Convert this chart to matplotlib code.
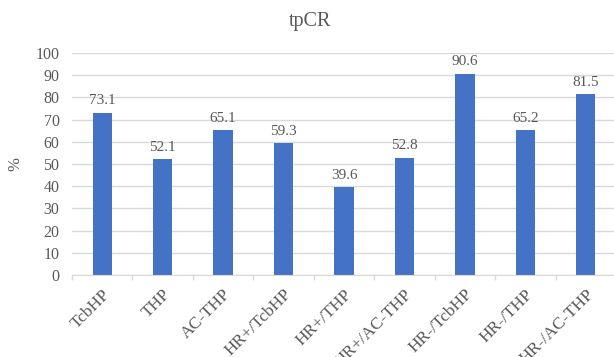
import numpy as np
import matplotlib
matplotlib.use('Agg')
import matplotlib.pyplot as plt

# regimens and tpCR rates (%)
groups = ['TcbHP', 'THP', 'AC-THP', 'HR+/TcbHP', 'HR+/THP', 'HR+/AC-THP',
          'HR-/TcbHP', 'HR-/THP', 'HR-/AC-THP']
tpcr = [73.1, 52.1, 65.1, 59.3, 39.6, 52.8, 90.6, 65.2, 81.5]

plt.rcParams['font.family'] = ['Liberation Serif', 'DejaVu Serif']
text_color = '#595959'
grid_color = '#d9d9d9'
bar_color = '#4472c4'

fig = plt.figure(figsize=(6.14, 3.57), dpi=100)
ax = fig.add_axes([0.1173, 0.2297, 0.886, 0.6218])

x = np.arange(len(groups))
bars = ax.bar(x, tpcr, width=0.32, color=bar_color, zorder=3)
for xi, v in zip(x, tpcr):
    ax.annotate('%.1f' % v, (xi, v), xytext=(0, 4), textcoords='offset points',
                ha='center', va='bottom', fontsize=11, color=text_color)

ax.set_xlim(-0.5, len(groups) - 0.5)
ax.set_ylim(0, 100)
ax.set_yticks(np.arange(0, 101, 10))
ax.yaxis.grid(True, color=grid_color, lw=1, zorder=0)

ax.set_xticks(x)
ax.set_xticklabels(groups, rotation=45, ha='right', rotation_mode='anchor',
                   fontsize=12.5, color=text_color)
ax.set_xticks(np.arange(len(groups) + 1) - 0.5, minor=True)
ax.tick_params(axis='x', which='major', length=0, pad=8)
ax.tick_params(axis='x', which='minor', length=3.5, color=grid_color, width=1)
ax.tick_params(axis='y', length=0, labelsize=11.5, labelcolor=text_color, pad=9)

for s in ['top', 'right', 'left']:
    ax.spines[s].set_visible(False)
ax.spines['bottom'].set_color(grid_color)
ax.spines['bottom'].set_zorder(4)

ax.set_ylabel('%', fontsize=12, color=text_color, labelpad=9)
fig.text(0.505, 0.94, 'tpCR', ha='center', va='center', fontsize=14.5,
         color=text_color)

fig.savefig('out.png', dpi=100)
